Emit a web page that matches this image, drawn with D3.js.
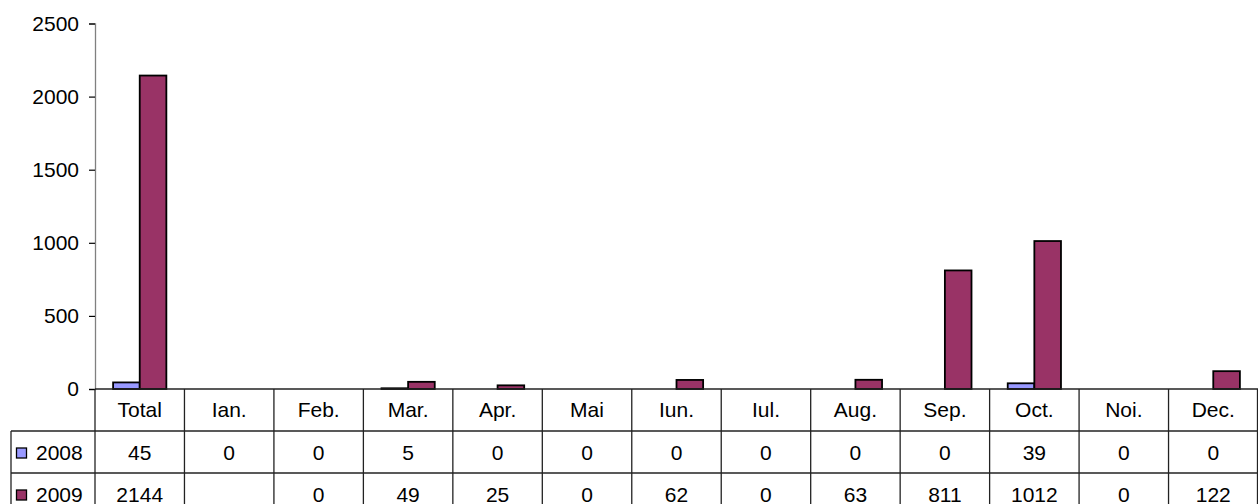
<!DOCTYPE html>
<html>
<head>
<meta charset="utf-8">
<script src="https://cdn.jsdelivr.net/npm/d3@7"></script>
<style>
  body { margin: 0; background: #fff; }
  svg { display: block; font-family: "Liberation Sans", Arial, sans-serif; }
  text { font-size: 21px; fill: #000; }
</style>
</head>
<body>
<div class="chart"></div>
<script>
// data
var months = ["Total", "Ian.", "Feb.", "Mar.", "Apr.", "Mai", "Iun.", "Iul.", "Aug.", "Sep.", "Oct.", "Noi.", "Dec."];
var seriesNames = ["2008", "2009"];
var values2008 = [45, 0, 0, 5, 0, 0, 0, 0, 0, 0, 39, 0, 0];
var values2009 = [2144, null, 0, 49, 25, 0, 62, 0, 63, 811, 1012, 0, 122];
var yTicks = [0, 500, 1000, 1500, 2000, 2500];
var colors = ["#9999ff", "#993366"];

var svgWidth = 1258;
var svgHeight = 504;

var plot = { left: 95, right: 1258, top: 23.5, bottom: 389 };
var rowH = 42;
var legendLeft = 11;

var svg = d3.select(".chart")
  .append("svg")
  .attr("width", svgWidth)
  .attr("height", svgHeight);

var series = [values2008, values2009];

//  Scales
var xScale = d3.scaleBand().domain(months).range([plot.left, plot.right]).padding(0);
var xInner = d3.scaleBand().domain(seriesNames).range([0, xScale.bandwidth()]).paddingInner(0).paddingOuter(0.68);
var yScale = d3.scaleLinear().domain([0, 2500]).range([plot.bottom, plot.top]);

//  y axis
var yAxis = d3.axisLeft(yScale).tickValues(yTicks).tickFormat(d3.format("d")).tickSize(6).tickPadding(10);
var gy = svg.append("g")
  .attr("transform", "translate(" + plot.left + ",0)")
  .call(yAxis)
  .attr("font-size", null)
  .attr("font-family", null);
gy.select(".domain").attr("stroke", "#808080").attr("stroke-width", 1.3);
gy.selectAll(".tick line").attr("stroke", "#000").attr("stroke-width", 1.2);

//  Bars
seriesNames.forEach(function(name, si) {
  svg.append("g")
    .selectAll("rect")
    .data(months.map(function(m, i) { return { m: m, v: series[si][i] }; }).filter(function(d) { return d.v; }))
    .enter()
    .append("rect")
    .attr("x", function(d) { return xScale(d.m) + xInner(name); })
    .attr("width", xInner.bandwidth())
    .attr("y", function(d) { return yScale(d.v); })
    .attr("height", function(d) { return yScale(0) - yScale(d.v); })
    .attr("fill", colors[si])
    .attr("stroke", "#000")
    .attr("stroke-width", 1.8);
});

//  Data table
var table = svg.append("g").attr("stroke", "#222").attr("stroke-width", 1.3);
// horizontal lines
table.append("line").attr("x1", plot.left).attr("x2", plot.right).attr("y1", plot.bottom).attr("y2", plot.bottom);
[1, 2, 3].forEach(function(r) {
  table.append("line").attr("x1", legendLeft).attr("x2", plot.right)
    .attr("y1", plot.bottom + r * rowH).attr("y2", plot.bottom + r * rowH);
});
// vertical lines
months.forEach(function(m) {
  table.append("line").attr("x1", xScale(m)).attr("x2", xScale(m))
    .attr("y1", plot.bottom).attr("y2", plot.bottom + 3 * rowH);
});
table.append("line").attr("x1", plot.right - 0.5).attr("x2", plot.right - 0.5)
  .attr("y1", plot.bottom).attr("y2", plot.bottom + 3 * rowH);
table.append("line").attr("x1", legendLeft).attr("x2", legendLeft)
  .attr("y1", plot.bottom + rowH).attr("y2", plot.bottom + 3 * rowH);

// header
svg.append("g").selectAll("text")
  .data(months).enter().append("text")
  .attr("x", function(d) { return xScale(d) + xScale.bandwidth() / 2; })
  .attr("y", plot.bottom + rowH / 2)
  .attr("dy", "0.35em")
  .attr("text-anchor", "middle")
  .text(function(d) { return d; });

// series rows
seriesNames.forEach(function(name, si) {
  var cy = plot.bottom + rowH * (si + 1) + rowH / 2 + 1;
  svg.append("rect")
    .attr("x", 16.5).attr("y", cy - 5)
    .attr("width", 10).attr("height", 10)
    .attr("fill", colors[si]).attr("stroke", "#000").attr("stroke-width", 1.3);
  svg.append("text")
    .attr("x", 36).attr("y", cy).attr("dy", "0.35em")
    .text(name);
  svg.append("g").selectAll("text")
    .data(months.map(function(m, i) { return { m: m, v: series[si][i] }; }).filter(function(d) { return d.v !== null; }))
    .enter().append("text")
    .attr("x", function(d) { return xScale(d.m) + xScale.bandwidth() / 2; })
    .attr("y", cy)
    .attr("dy", "0.35em")
    .attr("text-anchor", "middle")
    .text(function(d) { return d.v; });
});
</script>
</body>
</html>
